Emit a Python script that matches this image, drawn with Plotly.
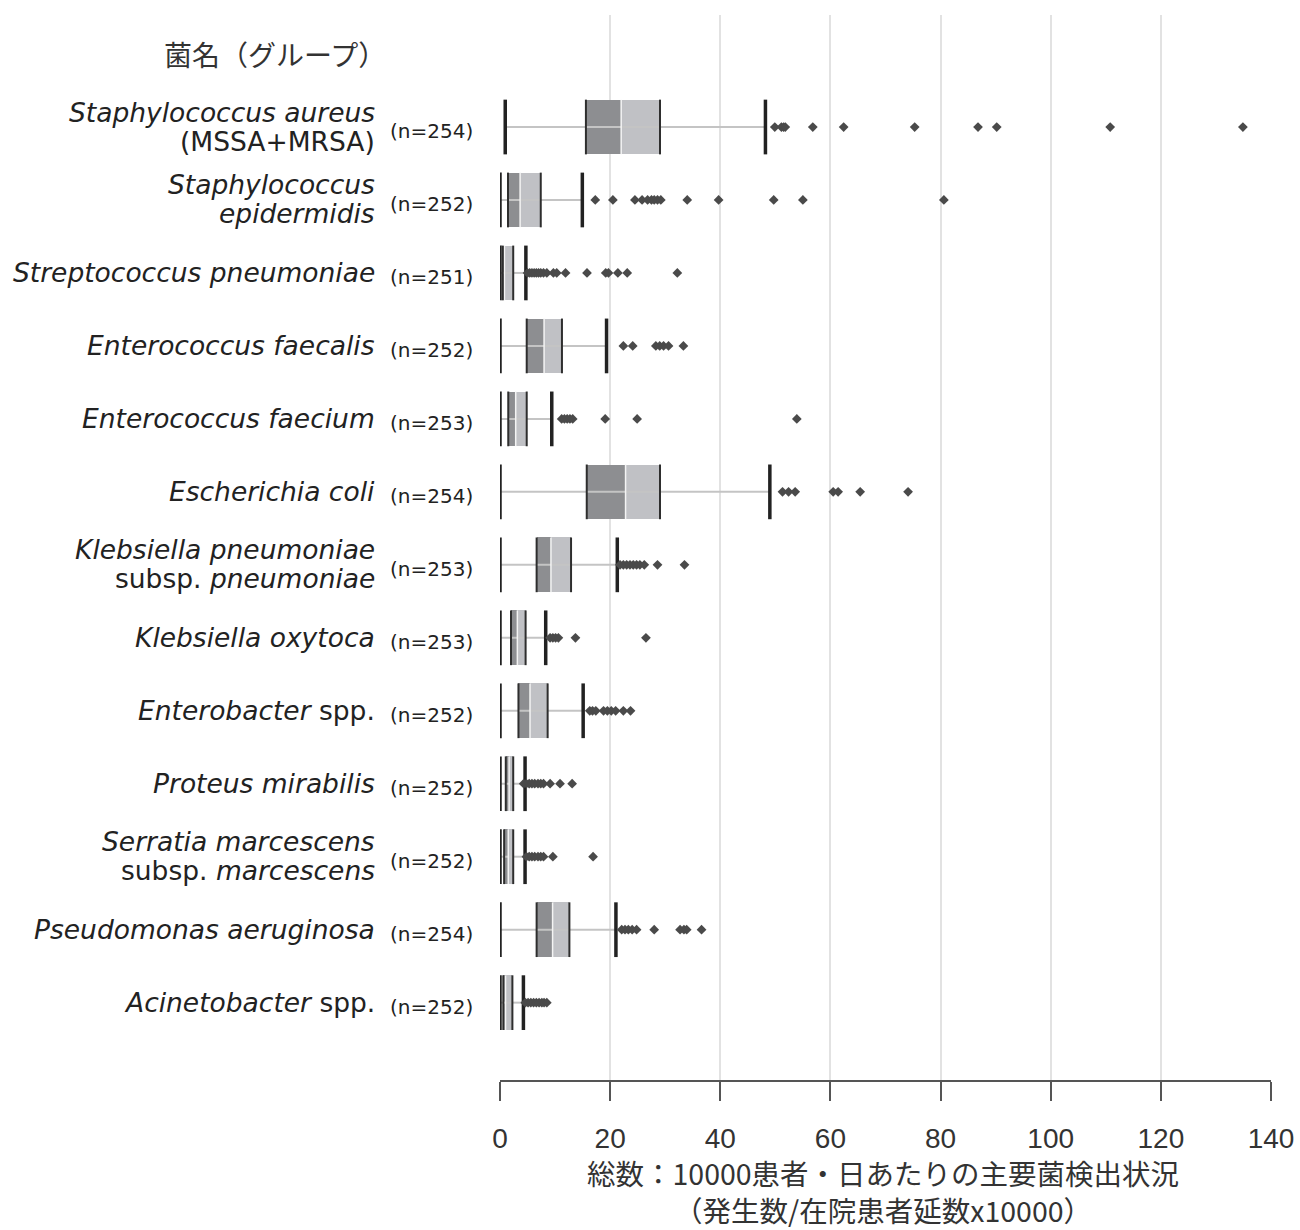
import plotly.graph_objects as go

# ---------------- data ----------------
label_line1 = [
    "<i>Staphylococcus aureus</i>",
    "<i>Staphylococcus</i>",
    "<i>Streptococcus pneumoniae</i>",
    "<i>Enterococcus faecalis</i>",
    "<i>Enterococcus faecium</i>",
    "<i>Escherichia coli</i>",
    "<i>Klebsiella pneumoniae</i>",
    "<i>Klebsiella oxytoca</i>",
    "<i>Enterobacter</i> spp.",
    "<i>Proteus mirabilis</i>",
    "<i>Serratia marcescens</i>",
    "<i>Pseudomonas aeruginosa</i>",
    "<i>Acinetobacter</i> spp.",
]
label_line2 = [
    "(MSSA+MRSA)",
    "<i>epidermidis</i>",
    "", "", "", "",
    "subsp. <i>pneumoniae</i>",
    "", "",
    "",
    "subsp. <i>marcescens</i>",
    "", "",
]
n_counts = [254, 252, 251, 252, 253, 254, 253, 253, 252, 252, 252, 254, 252]

whisker_low = [0.95, 0.0, 0.0, 0.0, 0.0, 0.0, 0.0, 0.0, 0.0, 0.0, 0.0, 0.0, 0.0]
q1 = [15.6, 1.45, 0.5, 4.85, 1.5, 15.75, 6.65, 2.0, 3.35, 1.05, 0.75, 6.65, 0.6]
median = [22.0, 3.65, 0.8, 8.0, 2.85, 22.8, 9.25, 3.15, 5.45, 1.65, 1.5, 9.55, 1.0]
q3 = [29.05, 7.4, 2.4, 11.25, 4.85, 29.05, 12.9, 4.65, 8.65, 2.4, 2.4, 12.6, 2.25]
whisker_high = [48.2, 14.95, 4.7, 19.35, 9.4, 49.0, 21.3, 8.3, 15.1, 4.55, 4.55, 21.05, 4.25]

outliers = [
    [49.9, 51.1, 51.5, 51.8, 56.8, 62.4, 75.3, 86.8, 90.2, 110.8, 134.9],
    [17.3, 20.5, 24.5, 25.8, 26.8, 27.5, 28.0, 28.6, 29.2, 34.0, 39.7, 49.7, 55.0, 80.6],
    [5.0, 5.4, 5.8, 6.2, 6.6, 7.0, 7.4, 7.9, 8.5, 9.7, 10.3, 11.9, 15.8, 19.2, 19.7, 21.4, 23.1, 32.2],
    [22.4, 24.1, 28.3, 29.0, 29.7, 30.6, 33.3],
    [11.2, 11.7, 12.2, 12.7, 13.2, 19.1, 24.9, 53.9],
    [51.3, 52.4, 53.6, 60.5, 61.4, 65.4, 74.1],
    [21.8, 22.4, 23.0, 23.6, 24.2, 24.8, 25.4, 26.2, 28.6, 33.5],
    [9.1, 9.6, 10.1, 10.6, 13.7, 26.5],
    [16.3, 16.8, 17.4, 18.8, 19.5, 20.2, 21.0, 22.4, 23.7],
    [4.3, 4.8, 5.3, 5.8, 6.3, 6.9, 7.4, 7.9, 9.1, 10.9, 13.1],
    [4.8, 5.3, 5.8, 6.3, 6.9, 7.4, 7.9, 9.6, 16.9],
    [22.1, 22.7, 23.3, 24.0, 24.8, 28.0, 32.7, 33.4, 33.9, 36.6],
    [4.6, 5.1, 5.6, 6.1, 6.6, 7.1, 7.6, 8.0, 8.5],
]

x_ticks = [0, 20, 40, 60, 80, 100, 120, 140]
header_text = "菌名（グループ）"
title_line1 = "総数：10000患者・日あたりの主要菌検出状況"
title_line2 = "（発生数/在院患者延数x10000）"

# ---------------- styling ----------------
BOX_H = 0.75
DARK = "#8d8e91"
LIGHT = "#c0c1c5"
WHISK = "#c4c4c4"
EDGE = "#2e2e2e"
OUT = "#4a4a4a"

pos = list(range(len(n_counts)))

fig = go.Figure()

# whisker lines
wx, wy = [], []
for p, lo, hi in zip(pos, whisker_low, whisker_high):
    wx += [lo, hi, None]
    wy += [p, p, None]
fig.add_trace(go.Scatter(x=wx, y=wy, mode="lines",
                         line=dict(color=WHISK, width=2),
                         hoverinfo="skip", showlegend=False, cliponaxis=False))

# boxes (Q1-median dark, median-Q3 light)
fig.add_trace(go.Bar(orientation="h", y=pos,
                     base=q1, x=[m - a for m, a in zip(median, q1)],
                     width=BOX_H, marker=dict(color=DARK, line=dict(width=0)),
                     showlegend=False, cliponaxis=False))
fig.add_trace(go.Bar(orientation="h", y=pos,
                     base=median, x=[b - m for b, m in zip(q3, median)],
                     width=BOX_H, marker=dict(color=LIGHT, line=dict(width=0)),
                     showlegend=False, cliponaxis=False))

# median separator (thin white)
mx, my = [], []
for p, m in zip(pos, median):
    mx += [m, m, None]
    my += [p - BOX_H / 2, p + BOX_H / 2, None]
fig.add_trace(go.Scatter(x=mx, y=my, mode="lines",
                         line=dict(color="#f4f4f4", width=1.5),
                         hoverinfo="skip", showlegend=False, cliponaxis=False))

# box edges at Q1 / Q3
ex, ey = [], []
for p, a, b in zip(pos, q1, q3):
    for v in (a, b):
        ex += [v, v, None]
        ey += [p - BOX_H / 2, p + BOX_H / 2, None]
fig.add_trace(go.Scatter(x=ex, y=ey, mode="lines",
                         line=dict(color=EDGE, width=2),
                         hoverinfo="skip", showlegend=False, cliponaxis=False))

# whisker caps
cx, cy = [], []
for p, lo, hi in zip(pos, whisker_low, whisker_high):
    for v in (lo, hi):
        cx += [v, v, None]
        cy += [p - BOX_H / 2, p + BOX_H / 2, None]
fig.add_trace(go.Scatter(x=cx, y=cy, mode="lines",
                         line=dict(color="#222222", width=3.5),
                         hoverinfo="skip", showlegend=False, cliponaxis=False))

# outliers
ox, oy = [], []
for p, vals in zip(pos, outliers):
    ox += vals
    oy += [p] * len(vals)
fig.add_trace(go.Scatter(x=ox, y=oy, mode="markers",
                         marker=dict(symbol="diamond", size=7.5, color=OUT,
                                     line=dict(width=0)),
                         showlegend=False, cliponaxis=False))

# ---------------- labels ----------------
ann = []
LBL_FONT = dict(family="DejaVu Sans", size=26.5, color="#222222")
N_FONT = dict(family="DejaVu Sans", size=20, color="#222222")
for p, l1, l2, n in zip(pos, label_line1, label_line2, n_counts):
    if l2:
        ann.append(dict(x=0, xref="paper", y=p, yref="y", text=l1,
                        xanchor="right", yanchor="middle", xshift=-123, yshift=15,
                        showarrow=False, font=LBL_FONT))
        ann.append(dict(x=0, xref="paper", y=p, yref="y", text=l2,
                        xanchor="right", yanchor="middle", xshift=-123, yshift=-14,
                        showarrow=False, font=LBL_FONT))
    else:
        ann.append(dict(x=0, xref="paper", y=p, yref="y", text=l1,
                        xanchor="right", yanchor="middle", xshift=-123, yshift=0,
                        showarrow=False, font=LBL_FONT))
    ann.append(dict(x=0, xref="paper", y=p, yref="y", text=f"(n={n})",
                    xanchor="right", yanchor="middle", xshift=-25, yshift=-4,
                    showarrow=False, font=N_FONT))

ann.append(dict(x=0, xref="paper", y=-1, yref="y", text=header_text,
                xanchor="right", yanchor="middle", xshift=-112, yshift=0,
                showarrow=False,
                font=dict(family="Noto Sans CJK JP", size=28, color="#333333")))

TITLE_FONT = dict(family="Noto Sans CJK JP", size=28.5, color="#333333")
ann.append(dict(x=0.497, xref="paper", y=0, yref="paper",
                text=title_line1 + "<br>" + title_line2,
                xanchor="center", yanchor="top", yshift=-71, borderpad=0,
                showarrow=False, font=TITLE_FONT))

fig.update_layout(
    width=1300, height=1230,
    margin=dict(l=500, r=29, t=15, b=150, autoexpand=False),
    paper_bgcolor="white", plot_bgcolor="white",
    barmode="overlay", bargap=0,
    annotations=ann,
    showlegend=False,
    xaxis=dict(range=[0, 140], tickvals=x_ticks, automargin=False,
               showgrid=True, gridcolor="#e2e2e2", gridwidth=1.5,
               zeroline=False, showline=True, linecolor="#555555", linewidth=1.5,
               ticks="outside", ticklen=19, tickwidth=1.5, tickcolor="#555555",
               ticklabelstandoff=14,
               tickfont=dict(family="Liberation Sans, Arial", size=28, color="#333333")),
    yaxis=dict(range=[13.06, -1.535], showgrid=False, zeroline=False, automargin=False,
               showticklabels=False, showline=False, ticks=""),
)

fig.write_html("out.html")
